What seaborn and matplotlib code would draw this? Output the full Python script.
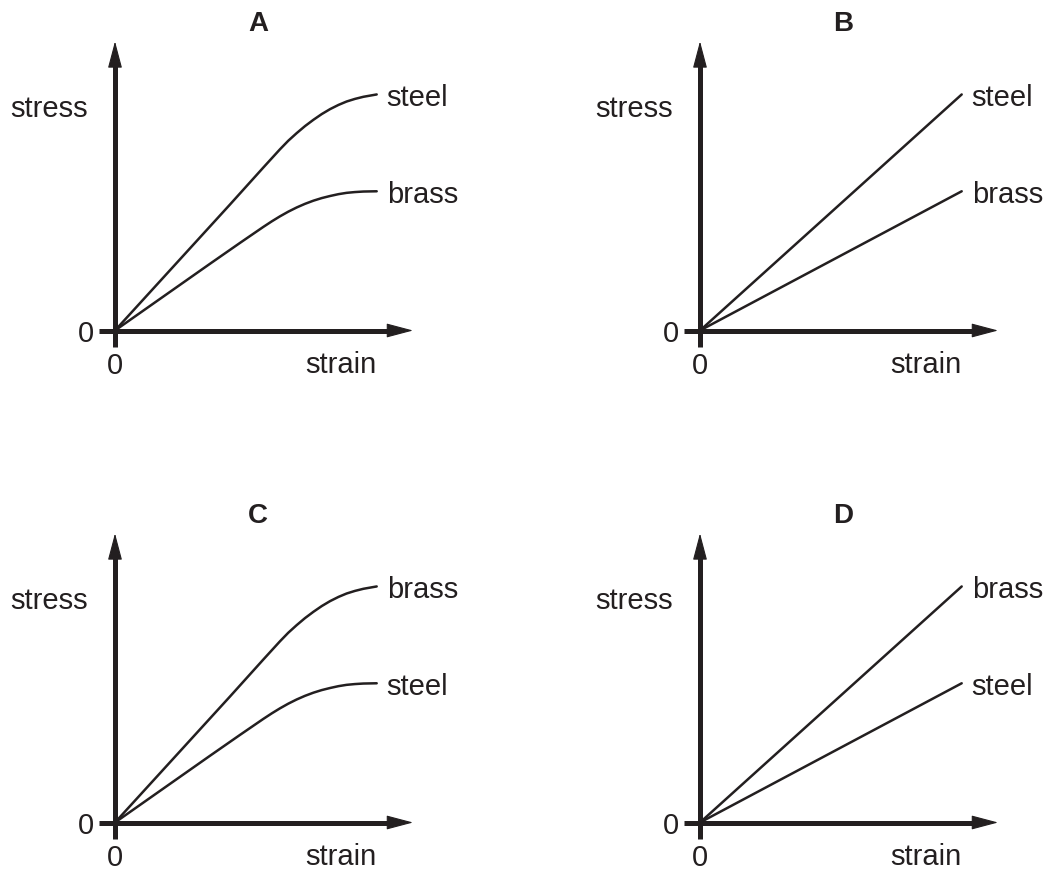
import numpy as np
import pandas as pd
import matplotlib
matplotlib.use("Agg")
import matplotlib.pyplot as plt
import seaborn as sns

sns.set_theme(style="white")
plt.rcParams["font.family"] = ["Liberation Sans", "DejaVu Sans"]

# ---- data (arbitrary units) ----
panels = ["A", "B", "C", "D"]

# curved (yielding) shape: upper and lower curves
curve_upper_strain = [0, 4.39, 5.67, 6.30, 6.62, 6.94, 7.26, 7.58, 7.90, 8.22,
                      8.54, 8.85, 9.17, 9.49, 10.0]
curve_upper_stress = [0, 4.81, 6.23, 6.92, 7.25, 7.54, 7.81, 8.05, 8.27, 8.46,
                      8.62, 8.75, 8.85, 8.93, 9.02]
curve_lower_strain = [0, 3.63, 4.78, 5.67, 5.99, 6.30, 6.62, 6.94, 7.26, 7.58,
                      7.90, 8.22, 8.54, 8.85, 9.17, 9.49, 10.0]
curve_lower_stress = [0, 2.55, 3.35, 3.96, 4.17, 4.36, 4.54, 4.70, 4.84, 4.96,
                      5.06, 5.14, 5.21, 5.26, 5.29, 5.31, 5.32]

# straight shape
line_upper_strain = [0, 10.0]
line_upper_stress = [0, 9.02]
line_lower_strain = [0, 10.0]
line_lower_stress = [0, 5.32]

upper_labels = ["steel", "steel", "brass", "brass"]
lower_labels = ["brass", "brass", "steel", "steel"]
curved = [True, False, True, False]

x_label = "strain"
y_label = "stress"
zero_label = "0"

# ---- layout ----
W, H = 1049, 870
S = 26.17  # pixels per data unit
origins = [(115, 331.5), (700, 331.5), (115, 823.5), (700, 823.5)]
XL, XR, YB, YT = -4.3, 13.3, -1.7, 12.3
ink = "#231f20"

fig = plt.figure(figsize=(W / 100, H / 100), dpi=100)
fig.patch.set_facecolor("white")

for i, name in enumerate(panels):
    ox, oy = origins[i]
    left = (ox + XL * S) / W
    width = (XR - XL) * S / W
    bottom = (H - (oy - YB * S)) / H
    height = (YT - YB) * S / H
    ax = fig.add_axes([left, bottom, width, height])
    ax.set_xlim(XL, XR)
    ax.set_ylim(YB, YT)
    ax.axis("off")

    if curved[i]:
        ux, uy = curve_upper_strain, curve_upper_stress
        lx, ly = curve_lower_strain, curve_lower_stress
    else:
        ux, uy = line_upper_strain, line_upper_stress
        lx, ly = line_lower_strain, line_lower_stress

    df = pd.concat([
        pd.DataFrame({"strain": ux, "stress": uy, "material": upper_labels[i]}),
        pd.DataFrame({"strain": lx, "stress": ly, "material": lower_labels[i]}),
    ])
    sns.lineplot(data=df, x="strain", y="stress", units="material",
                 estimator=None, sort=False, color=ink, lw=1.8, ax=ax,
                 legend=False)

    # axes: shafts
    ax.plot([-0.6, 10.8], [0, 0], color=ink, lw=3.6, solid_capstyle="butt",
            clip_on=False)
    ax.plot([0, 0], [-0.64, 10.5], color=ink, lw=3.6, solid_capstyle="butt",
            clip_on=False)
    # arrow heads
    ap = dict(arrowstyle="-|>,head_length=1.7,head_width=0.45",
              lw=0.8, color=ink, mutation_scale=10, shrinkA=0, shrinkB=0)
    ax.annotate("", xy=(11.39, 0), xytext=(10.4, 0), arrowprops=ap,
                annotation_clip=False)
    ax.annotate("", xy=(0, 11.05), xytext=(0, 10.0), arrowprops=ap,
                annotation_clip=False)

    # labels
    ax.text(ux[-1] + 0.38, uy[-1], upper_labels[i], fontsize=21, color=ink,
            ha="left", va="center_baseline", clip_on=False)
    ax.text(lx[-1] + 0.38, ly[-1], lower_labels[i], fontsize=21, color=ink,
            ha="left", va="center_baseline", clip_on=False)
    ax.text(-4.02, 8.6, y_label, fontsize=21, color=ink, ha="left",
            va="center_baseline", clip_on=False)
    ax.text(10.0, -1.17, x_label, fontsize=21, color=ink, ha="right",
            va="center_baseline", clip_on=False)
    ax.text(-1.1, 0, zero_label, fontsize=21, color=ink, ha="center",
            va="center_baseline", clip_on=False)
    ax.text(0, -1.19, zero_label, fontsize=21, color=ink, ha="center",
            va="center_baseline", clip_on=False)
    ax.text(5.47, 11.85, name, fontsize=20, fontweight="bold", color=ink,
            ha="center", va="center_baseline", clip_on=False)

fig.savefig("out.png", dpi=100, facecolor="white")
